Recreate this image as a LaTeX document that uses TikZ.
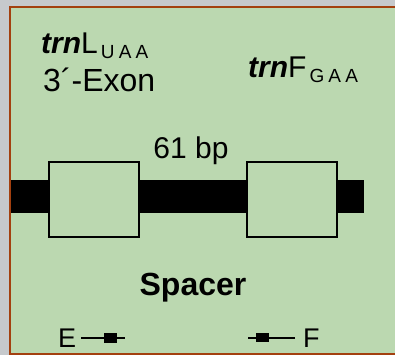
\documentclass[tikz,border=0pt]{standalone}
\usepackage{fontspec}
\setmainfont{Liberation Sans}
\usetikzlibrary{arrows.meta,positioning,calc,decorations.markings}
\definecolor{Leaf}{HTML}{BBD8B0}
\definecolor{Slate}{HTML}{C6C9CC}
\definecolor{Rim}{HTML}{A3400F}
\newcommand{\gsub}[1]{\hspace{3pt}\raisebox{-5pt}{\fontsize{19}{19}\selectfont\addfontfeature{LetterSpace=22}#1}}

\begin{document}
\begin{tikzpicture}[x=1pt,y=-1pt,
    lbl/.style={inner sep=0pt,font=\fontsize{30}{36}\selectfont},
    exonbox/.style={draw,line width=2pt,fill=Leaf,minimum width=90pt,minimum height=75pt},
    primer/.style={line width=2pt,postaction={decorate},
      decoration={markings,mark=at position #1 with {\fill (-6.5pt,-5pt) rectangle (6.5pt,4.5pt);}}}]
    \useasboundingbox (0,0) rectangle (395,355);
    \fill[Slate] (0,0) rectangle (395,355);
    \filldraw[fill=Leaf,draw=Rim,line width=2pt] (10,7) rectangle (405,354);
    % strand with the two exons
    \fill (11,180) rectangle (364,213);
    \node[exonbox] (boxL) at (94,199.5) {};
    \node[exonbox] (boxR) at (292,199.5) {};
    \node[lbl,anchor=base west] (trnL) at (41,54) {\textbf{\textit{trn}}L\gsub{UAA}};
    \node[lbl,anchor=base west,font=\fontsize{32}{36}\selectfont] (exon) at (43,92) {3´-Exon};
    \node[lbl,anchor=base west] (trnF) at (248,78) {\textbf{\textit{trn}}F\gsub{GAA}};
    \node[lbl,anchor=base] (bp) at (191,159) {61 bp};
    \node[lbl,anchor=base,font=\fontsize{32}{36}\bfseries\selectfont] (spacer) at (193,295) {Spacer};
    % primers
    \node[lbl,anchor=base west,font=\fontsize{27}{30}\selectfont] (E) at (58,347) {E};
    \node[lbl,anchor=base west,font=\fontsize{27}{30}\selectfont] (F) at (303,347) {F};
    \coordinate (Etip) at (125,0);
    \coordinate (Ftip) at (248,0);
    \draw[primer=0.71,shorten <=5pt] (E) -- (E -| Etip);
    \draw[primer=0.74,shorten <=8pt] (F) -- (F -| Ftip);
  \end{tikzpicture}
\end{document}
